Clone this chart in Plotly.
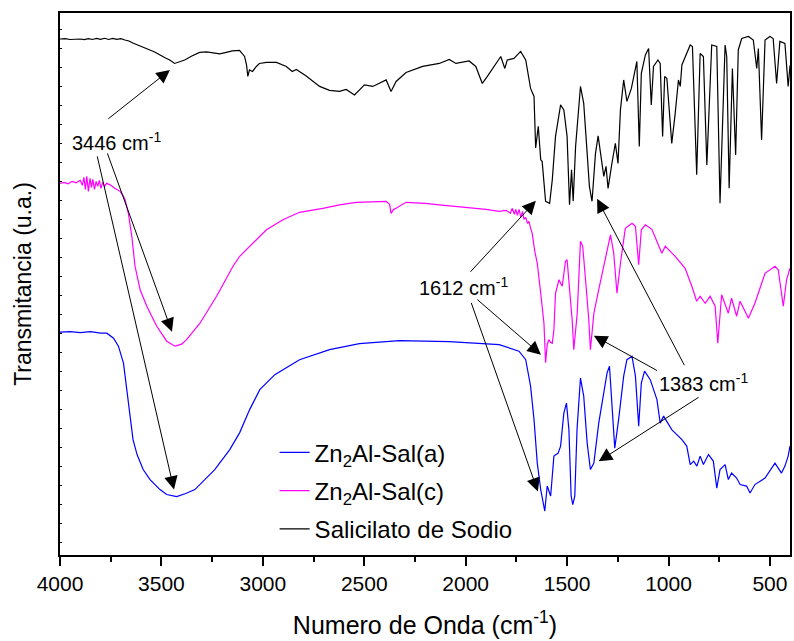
import plotly.graph_objects as go

# ---------------- data (wavenumber cm-1, transmittance a.u. with offset) -------------
sal_sodio = [
    (4000, 516.5), (3975, 516.8), (3950, 516), (3925, 516.2), (3900, 516.5), (3880, 515.8),
    (3860, 516.8), (3840, 516), (3820, 517), (3800, 516.2), (3780, 517.2), (3760, 516),
    (3740, 517), (3720, 516.2), (3700, 516.8), (3680, 515.5), (3660, 514.5), (3641, 512.5),
    (3600, 509), (3533, 503.5), (3480, 497.5), (3459, 495.5), (3435, 492), (3410, 493.5),
    (3385, 495.5), (3350, 499.5), (3312, 503), (3277, 503.5), (3228, 502), (3213, 501.5),
    (3180, 503), (3150, 504.5), (3115, 505), (3090, 499), (3080, 490), (3074, 479),
    (3066, 485.5), (3051, 484), (3032, 489), (3017, 492), (2982, 493), (2933, 493),
    (2884, 489), (2855, 484), (2835, 486), (2786, 479.5), (2720, 469), (2671, 465),
    (2622, 464), (2589, 466), (2548, 460.5), (2499, 470.5), (2458, 469), (2392, 475.5),
    (2368, 464), (2343, 474), (2294, 483), (2212, 489), (2130, 492), (2081, 496),
    (2048, 492), (1983, 494.5), (1950, 489), (1918, 472), (1893, 479), (1852, 492),
    (1827, 499), (1807, 487), (1795, 495.5), (1762, 497), (1737, 502), (1729, 504),
    (1704, 495.5), (1680, 467), (1663, 459), (1655, 407.5), (1642, 429), (1630, 395.5),
    (1623, 394), (1606, 354), (1586, 352), (1573, 375.5), (1557, 419), (1532, 450.5),
    (1516, 445.5), (1500, 419), (1488, 350.5), (1478, 385.5), (1470, 354), (1458, 409),
    (1434, 469), (1418, 452), (1401, 402), (1390, 369), (1377, 354), (1360, 402),
    (1347, 419.5), (1331, 395.5), (1319, 379), (1308, 389), (1298, 367), (1279, 392),
    (1262, 412), (1249, 392), (1237, 445.5), (1221, 475.5), (1205, 454), (1183, 467),
    (1163, 489), (1156, 494), (1144, 409), (1134, 482), (1114, 500.5), (1098, 507),
    (1085, 450.5), (1074, 489), (1052, 495.5), (1041, 492), (1029, 419), (1019, 479),
    (1008, 477), (984, 412), (967, 442), (951, 475.5), (942, 469), (934, 490.5),
    (893, 510.5), (882, 509), (861, 380.5), (844, 502), (828, 499), (811, 390.5),
    (787, 510.5), (762, 509), (746, 352), (721, 510.5), (713, 499), (701, 367),
    (685, 487), (669, 400.5), (656, 505.5), (639, 517), (606, 519), (582, 515.5),
    (565, 487), (557, 507), (541, 415.5), (524, 515.5), (500, 519), (484, 517),
    (467, 472), (451, 514), (426, 512), (410, 469), (401, 490),
]

zn2al_sal_c = [
    (4000, 372), (3980, 373), (3960, 371.5), (3940, 374), (3920, 372.5), (3900, 375),
    (3890, 370), (3882, 378), (3875, 366), (3868, 379), (3860, 364), (3852, 377),
    (3845, 368), (3838, 376), (3830, 366), (3822, 374), (3814, 369), (3806, 375),
    (3798, 367), (3790, 373), (3780, 369), (3770, 372), (3753, 370.5), (3730, 367),
    (3704, 364), (3690, 360), (3679, 355.5), (3663, 342), (3646, 319), (3630, 289),
    (3605, 265.5), (3572, 249), (3523, 229), (3474, 214), (3433, 209), (3400, 211),
    (3376, 215.5), (3310, 232), (3228, 259), (3147, 289), (3114, 299), (3065, 309),
    (2982, 325.5), (2901, 335.5), (2819, 343), (2704, 347), (2622, 350.5), (2540, 353),
    (2450, 354), (2392, 354), (2375, 351), (2368, 342), (2355, 346), (2343, 347),
    (2294, 353), (2200, 352), (2130, 350.5), (2050, 349), (1967, 347), (1900, 346),
    (1836, 344), (1800, 345), (1780, 342), (1770, 347), (1760, 341), (1753, 346),
    (1745, 340), (1737, 346), (1728, 338), (1720, 344), (1712, 336), (1704, 338),
    (1695, 332), (1688, 334), (1680, 327.5), (1672, 322), (1660, 305), (1647, 292),
    (1630, 262), (1614, 232), (1606, 192.5), (1598, 210.5), (1590, 215.5), (1582, 213),
    (1573, 212), (1565, 225.5), (1557, 262), (1540, 275.5), (1524, 269), (1508, 294),
    (1500, 295.5), (1491, 275.5), (1475, 235.5), (1467, 205.5), (1450, 242), (1434, 314),
    (1423, 309), (1409, 275.5), (1393, 235.5), (1385, 205.5), (1368, 242), (1344, 265.5),
    (1311, 295.5), (1286, 320.5), (1270, 302), (1254, 262), (1237, 292), (1213, 327),
    (1180, 332), (1163, 329), (1147, 290.5), (1134, 325.5), (1114, 330.5), (1082, 326),
    (1033, 302), (1016, 309), (967, 299), (918, 287), (885, 269), (861, 254),
    (844, 259), (819, 252), (795, 259), (770, 249), (757, 212), (738, 260.5),
    (705, 242), (689, 257), (664, 239), (647, 254), (606, 237), (574, 252),
    (524, 282), (475, 289), (459, 285.5), (434, 249), (418, 275.5), (401, 287),
]

zn2al_sal_a = [
    (4000, 223), (3950, 223.5), (3900, 222.5), (3850, 223.5), (3800, 222), (3769, 222),
    (3736, 217), (3712, 209), (3687, 192), (3666, 155.5), (3654, 135.5), (3640, 115.5),
    (3620, 100.5), (3590, 85.5), (3556, 75.5), (3507, 65.5), (3474, 60.5), (3425, 58.5),
    (3380, 61.5), (3335, 65.5), (3237, 85.5), (3163, 105.5), (3114, 122.5), (3065, 145.5),
    (3015, 165.5), (2941, 180.5), (2819, 195.5), (2671, 205.5), (2524, 211.5), (2327, 214.5),
    (2081, 213.5), (1835, 210.5), (1737, 204), (1704, 195.5), (1680, 169), (1663, 135.5),
    (1647, 92), (1630, 65.5), (1610, 44), (1598, 69), (1581, 59), (1565, 99),
    (1544, 102), (1532, 109), (1516, 142), (1503, 152), (1491, 125.5), (1480, 59),
    (1472, 50.5), (1462, 59), (1451, 125.5), (1434, 177), (1418, 159), (1401, 112),
    (1385, 85.5), (1368, 92), (1344, 132), (1328, 150.5), (1303, 182), (1291, 189),
    (1278, 142), (1265, 107), (1246, 135.5), (1221, 179), (1205, 195.5), (1180, 199),
    (1163, 179), (1147, 129), (1134, 172), (1118, 184), (1090, 175.5), (1057, 155.5),
    (1041, 132), (1024, 139), (984, 125.5), (934, 115.5), (910, 109), (893, 90.5),
    (876, 94), (860, 89), (844, 99), (828, 90.5), (803, 100.5), (779, 94),
    (762, 67), (746, 85.5), (721, 90.5), (705, 75.5), (689, 82), (664, 77),
    (647, 70.5), (615, 69), (598, 62), (574, 70.5), (524, 77), (475, 92),
    (443, 82), (426, 89), (410, 99), (401, 109),
]

series_names = ["Zn<sub>2</sub>Al-Sal(a)", "Zn<sub>2</sub>Al-Sal(c)", "Salicilato de Sodio"]
series_colors = ["#0000FF", "#FF00FF", "#000000"]
x_ticks = [4000, 3500, 3000, 2500, 2000, 1500, 1000, 500]

# annotations: (label, text position, list of (head, tail)) in data units
band_labels = [
    ("3446 cm<sup>-1</sup>", (3723, 414),
     [((3458, 485.5), (3769, 435.5)), ((3448, 223.5), (3769, 403.5)), ((3438, 65.5), (3818, 400.5))]),
    ("1612 cm<sup>-1</sup>", (2012, 268.5),
     [((1654, 354.5), (1983, 282)), ((1644, 63.5), (1975, 253.8)), ((1629, 200.5), (1950, 257))]),
    ("1383 cm<sup>-1</sup>", (828, 172.5),
     [((1352, 356.5), (918, 188.5)), ((1368, 219.5), (1049, 183.8)), ((1344, 93.8), (844, 158.8))]),
]

FONT = "Arial, 'Liberation Sans', sans-serif"

fig = go.Figure()
for data, name, color in zip([zn2al_sal_a, zn2al_sal_c, sal_sodio], series_names, series_colors):
    xs = [p[0] for p in data]
    ys = [p[1] for p in data]
    fig.add_trace(go.Scatter(x=xs, y=ys, mode="lines", name=name, legendgroup=name,
                             line=dict(color=color, width=1.2)))

annotations = []
for text, (tx, ty), arrows in band_labels:
    annotations.append(dict(x=tx, y=ty, xref="x", yref="y", text=text, showarrow=False,
                            font=dict(family=FONT, size=20, color="black")))
    for (hx, hy), (ax, ay) in arrows:
        annotations.append(dict(x=hx, y=hy, ax=ax, ay=ay, xref="x", yref="y", axref="x", ayref="y",
                                text="", showarrow=True, arrowhead=2, arrowsize=2.7,
                                arrowwidth=1, arrowcolor="black"))

fig.update_layout(
    width=794, height=641,
    margin=dict(l=60, r=2, t=13, b=86),
    paper_bgcolor="white", plot_bgcolor="white",
    font=dict(family=FONT, color="black"),
    showlegend=True,
    legend=dict(x=0.294, y=0.23, xanchor="left", yanchor="top", bgcolor="rgba(0,0,0,0)",
                font=dict(family=FONT, size=24, color="black"), traceorder="grouped",
                tracegroupgap=4),
    annotations=annotations,
    xaxis=dict(range=[4000, 401], tickvals=x_ticks, ticks="outside", ticklen=9, tickwidth=2,
               tickcolor="black", showline=True, linewidth=2, linecolor="black", mirror=True,
               showgrid=False, zeroline=False, tickfont=dict(size=21, family=FONT),
               minor=dict(dtick=250, tick0=0, ticks="outside", ticklen=5, tickwidth=2,
                          tickcolor="black", showgrid=False),
               title=dict(text="Numero de Onda (cm<sup>-1</sup>)", font=dict(size=25, family=FONT),
                          standoff=22)),
    yaxis=dict(range=[0, 542.5], showticklabels=False, ticks="inside", ticklen=2, tickwidth=1,
               dtick=19, tick0=13, tickcolor="black",
               showline=True, linewidth=2, linecolor="black", mirror=True,
               showgrid=False, zeroline=False,
               title=dict(text="Transmitancia (u.a.)", font=dict(size=23, family=FONT),
                          standoff=20)),
)

fig.write_html("out.html")
